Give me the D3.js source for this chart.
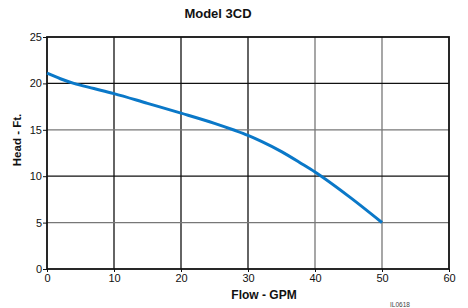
<!DOCTYPE html>
<html><head><meta charset="utf-8">
<script src="https://cdn.jsdelivr.net/npm/d3@7"></script>
<style>body{margin:0;background:#fff}svg{display:block;font-family:"Liberation Sans",Arial,sans-serif}</style>
</head><body><svg id="c" width="468" height="308"></svg>
<script>
const flow = [0, 2, 4, 7, 10, 15, 20, 25, 28, 30, 32, 35, 38, 40, 45, 50];
const head = [21.1, 20.5, 20.0, 19.45, 18.9, 17.85, 16.8, 15.7, 14.95, 14.4, 13.75, 12.65, 11.35, 10.45, 7.85, 5.0];
const xTicks = [0, 10, 20, 30, 40, 50, 60];
const yTicks = [0, 5, 10, 15, 20, 25];
const title = "Model 3CD", xLabel = "Flow - GPM", yLabel = "Head - Ft.", code = "IL0618";

const svg = d3.select("#c");
const L = 47, R = 449, T = 37, B = 269;
const x = d3.scaleLinear().domain([0, 60]).range([L, R]);
const y = d3.scaleLinear().domain([0, 25]).range([B, T]);
const darkX = new Set([10, 20, 30]), darkY = new Set([10, 20]);

svg.append("g").selectAll("line").data(xTicks.filter(d => d > 0 && d < 60)).join("line")
  .attr("x1", d => x(d)).attr("x2", d => x(d)).attr("y1", T).attr("y2", B)
  .attr("stroke", d => darkX.has(d) ? "#111" : "#777").attr("stroke-width", 1.3);
svg.append("g").selectAll("line").data(yTicks.filter(d => d > 0 && d < 25)).join("line")
  .attr("y1", d => y(d)).attr("y2", d => y(d)).attr("x1", L).attr("x2", R)
  .attr("stroke", d => darkY.has(d) ? "#111" : "#777").attr("stroke-width", 1.3);

svg.append("rect").attr("x", L).attr("y", T).attr("width", R - L).attr("height", B - T)
  .attr("fill", "none").attr("stroke", "#111").attr("stroke-width", 1.8);

const xa = svg.append("g").attr("transform", `translate(0,${B})`)
  .call(d3.axisBottom(x).tickValues(xTicks).tickSize(3).tickSizeOuter(0).tickPadding(2));
const ya = svg.append("g").attr("transform", `translate(${L},0)`)
  .call(d3.axisLeft(y).tickValues(yTicks).tickSize(4).tickSizeOuter(0).tickPadding(1));
[xa, ya].forEach(a => {
  a.select(".domain").remove();
  a.selectAll("line").attr("stroke", "#111");
  a.selectAll("text").attr("font-size", 11).attr("fill", "#111").attr("font-family", "Liberation Sans, Arial, sans-serif");
});

const line = d3.line().x((d, i) => x(flow[i])).y(d => y(d)).curve(d3.curveMonotoneX);
svg.append("path").attr("d", line(head)).attr("fill", "none")
  .attr("stroke", "#0a78c8").attr("stroke-width", 3).attr("stroke-linecap", "butt");

svg.append("text").attr("x", 218).attr("y", 18).attr("text-anchor", "middle")
  .attr("font-size", 13).attr("font-weight", "bold").attr("fill", "#111").text(title);
svg.append("text").attr("x", 264).attr("y", 299).attr("text-anchor", "middle")
  .attr("font-size", 12).attr("font-weight", "bold").attr("fill", "#111").text(xLabel);
svg.append("text").attr("transform", `translate(21,140) rotate(-90)`).attr("text-anchor", "middle")
  .attr("font-size", 11.5).attr("font-weight", "bold").attr("fill", "#111").text(yLabel);
svg.append("text").attr("x", 400).attr("y", 307).attr("text-anchor", "middle")
  .attr("font-size", 6.5).attr("fill", "#444").text(code);
</script></body></html>
